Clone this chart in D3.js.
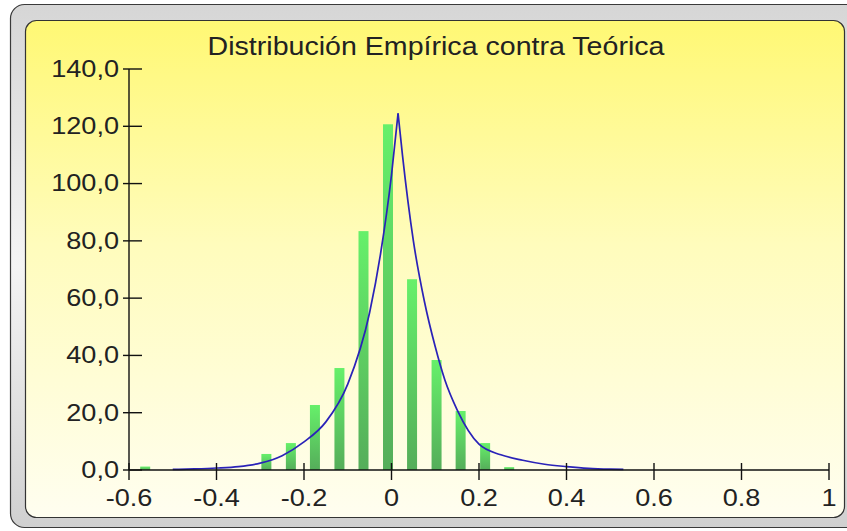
<!DOCTYPE html>
<html>
<head>
<meta charset="utf-8">
<script src="https://cdn.jsdelivr.net/npm/d3@7"></script>
<style>
  html, body { margin: 0; padding: 0; background: #ffffff; }
  svg { display: block; font-family: "Liberation Sans", Arial, sans-serif; }
</style>
</head>
<body>
<svg id="chart" width="847" height="531"></svg>
<script>
// Histogram: bin centres and heights
const binCenters = [-0.563, -0.508, -0.452, -0.397, -0.341, -0.286, -0.230, -0.175,
                    -0.119, -0.064, -0.008, 0.047, 0.103, 0.158, 0.214, 0.269];
const binValues  = [1.2, 0, 0, 0, 0, 5.6, 9.4, 22.7, 35.6, 83.4, 120.7, 66.6, 38.4, 20.6, 9.4, 1.0];

// Theoretical density curve, left branch (rising) and right branch (falling)
const curveLeftX  = [-0.50, -0.45, -0.40, -0.35, -0.30, -0.25, -0.20, -0.15, -0.10, -0.05, -0.025, 0.0, 0.015];
const curveLeftY  = [0.2, 0.4, 0.7, 1.2, 2.4, 5.0, 9.8, 16.8, 30.0, 55.0, 75.5, 103.0, 124.5];
const curveRightX = [0.015, 0.025, 0.05, 0.075, 0.10, 0.122, 0.15, 0.20, 0.25, 0.30, 0.35, 0.40, 0.45, 0.50, 0.53];
const curveRightY = [124.5, 110.0, 80.0, 59.0, 43.0, 31.4, 21.0, 9.0, 5.3, 3.4, 2.0, 1.2, 0.6, 0.3, 0.2];

// Axis ticks
const xTicks = [-0.6, -0.4, -0.2, 0, 0.2, 0.4, 0.6, 0.8, 1];
const yTicks = [0, 20, 40, 60, 80, 100, 120, 140];

const title = "Distribución Empírica contra Teórica";

const svg = d3.select("#chart");
const defs = svg.append("defs");

// Frame gradients
const bevel = defs.append("linearGradient").attr("id", "bevel")
  .attr("x1", 0).attr("y1", 0).attr("x2", 0).attr("y2", 1);
bevel.append("stop").attr("offset", "0%").attr("stop-color", "#d6d6d6");
bevel.append("stop").attr("offset", "50%").attr("stop-color", "#f4f4f4");
bevel.append("stop").attr("offset", "100%").attr("stop-color", "#d0d0d0");

const panelGrad = defs.append("linearGradient").attr("id", "panel")
  .attr("x1", 0).attr("y1", 0).attr("x2", 0).attr("y2", 1);
panelGrad.append("stop").attr("offset", "0%").attr("stop-color", "#fff874");
panelGrad.append("stop").attr("offset", "45%").attr("stop-color", "#fffcbc");
panelGrad.append("stop").attr("offset", "100%").attr("stop-color", "#fffef0");

const barGrad = defs.append("linearGradient").attr("id", "barGrad")
  .attr("x1", 0).attr("y1", 0).attr("x2", 0).attr("y2", 1);
barGrad.append("stop").attr("offset", "0%").attr("stop-color", "#66f06a");
barGrad.append("stop").attr("offset", "100%").attr("stop-color", "#55ad5a");

// Outer bevelled frame and inner panel
svg.append("rect")
  .attr("x", 10.5).attr("y", 4.5).attr("width", 850).attr("height", 523)
  .attr("rx", 14).attr("fill", "url(#bevel)")
  .attr("stroke", "#3a3a3a").attr("stroke-width", 1.2);
svg.append("rect")
  .attr("x", 25.5).attr("y", 20.5).attr("width", 819).attr("height", 497)
  .attr("rx", 11).attr("fill", "url(#panel)")
  .attr("stroke", "#333333").attr("stroke-width", 1.2);

// Plot area
const plot = { left: 129, right: 829, top: 69, bottom: 470 };

const x = d3.scaleLinear().domain([-0.6, 1]).range([plot.left, plot.right]);
const y = d3.scaleLinear().domain([0, 140]).range([plot.bottom, plot.top]);

const fmtY = v => d3.format(".1f")(v).replace(".", ",");
const fmtX = v => String(v);

// Text is set slightly wide, as in the original chart
const stretch = 1.13;
const placeText = (sel, fx, fy) =>
  sel.attr("x", 0).attr("y", 0)
     .attr("transform", (d, i) => `translate(${fx(d, i)},${fy(d, i)}) scale(${stretch},1)`);

// Bars
const barWidth = 10;
svg.append("g").selectAll("rect")
  .data(binCenters.map((c, i) => ({ c, v: binValues[i] })).filter(d => d.v > 0))
  .join("rect")
  .attr("x", d => x(d.c) - barWidth / 2)
  .attr("y", d => y(d.v))
  .attr("width", barWidth)
  .attr("height", d => y(0) - y(d.v))
  .attr("fill", "url(#barGrad)");

// Theoretical curve, each branch drawn monotone so the peak stays sharp
const line = d3.line().x(d => x(d[0])).y(d => y(d[1])).curve(d3.curveMonotoneX);
const leftPts = curveLeftX.map((v, i) => [v, curveLeftY[i]]);
const rightPts = curveRightX.map((v, i) => [v, curveRightY[i]]);
svg.append("path").attr("d", line(leftPts))
  .attr("fill", "none").attr("stroke", "#2a22b8").attr("stroke-width", 1.7)
  .attr("stroke-linejoin", "round");
svg.append("path").attr("d", line(rightPts))
  .attr("fill", "none").attr("stroke", "#2a22b8").attr("stroke-width", 1.7)
  .attr("stroke-linejoin", "round");

// Axes
const axisColor = "#111111";
const yAxis = svg.append("g");
yAxis.append("line")
  .attr("x1", plot.left).attr("x2", plot.left)
  .attr("y1", y(140)).attr("y2", y(0))
  .attr("stroke", axisColor).attr("stroke-width", 1.4);
yAxis.selectAll("line.tick").data(yTicks).join("line").attr("class", "tick")
  .attr("x1", plot.left - 6).attr("x2", plot.left + 13)
  .attr("y1", d => y(d)).attr("y2", d => y(d))
  .attr("stroke", axisColor).attr("stroke-width", 1.4);
yAxis.selectAll("text").data(yTicks).join("text")
  .call(placeText, () => plot.left - 10, d => y(d))
  .attr("dy", "0.33em").attr("text-anchor", "end")
  .attr("font-size", 24).attr("fill", "#222")
  .text(fmtY);

const xAxis = svg.append("g");
xAxis.append("line")
  .attr("x1", x(-0.6)).attr("x2", x(1))
  .attr("y1", plot.bottom).attr("y2", plot.bottom)
  .attr("stroke", axisColor).attr("stroke-width", 1.4);
xAxis.selectAll("line.tick").data(xTicks).join("line").attr("class", "tick")
  .attr("x1", d => x(d)).attr("x2", d => x(d))
  .attr("y1", plot.bottom - 7).attr("y2", plot.bottom + 10)
  .attr("stroke", axisColor).attr("stroke-width", 1.4);
xAxis.selectAll("text").data(xTicks).join("text")
  .call(placeText, d => x(d), () => plot.bottom + 36)
  .attr("text-anchor", "middle")
  .attr("font-size", 24).attr("fill", "#222")
  .text(fmtX);

// Title
svg.append("text")
  .datum(title)
  .call(placeText, () => 436, () => 55)
  .attr("text-anchor", "middle")
  .attr("font-size", 25.3).attr("fill", "#222")
  .text(d => d);
</script>
</body>
</html>
